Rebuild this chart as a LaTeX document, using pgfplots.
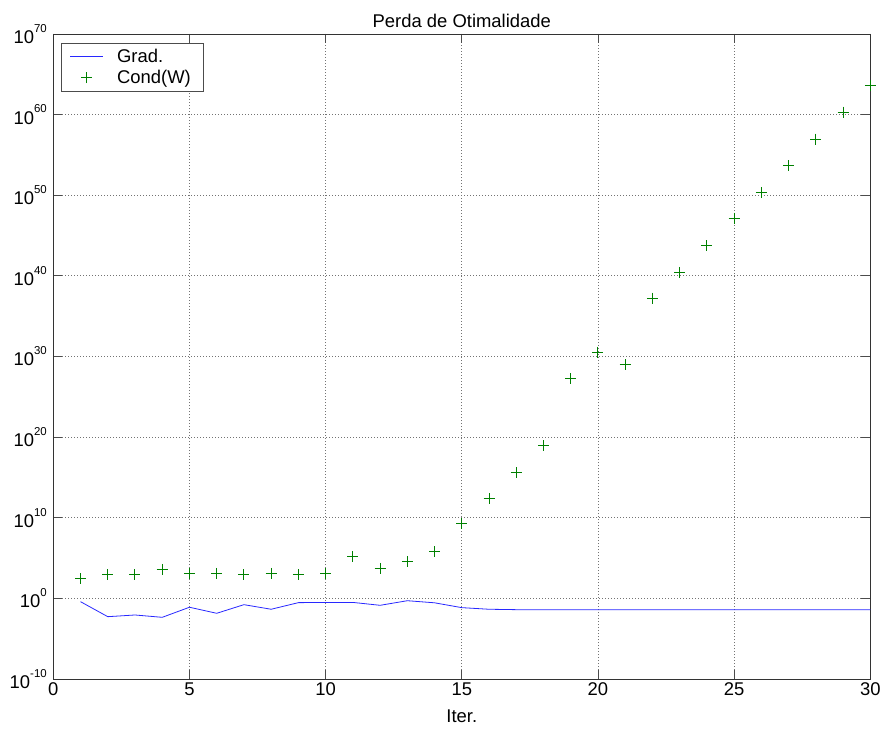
\documentclass[border=0pt]{standalone}
\usepackage{pgfplots}
\pgfplotsset{compat=1.18}
\usepackage{fontspec}
\setmainfont{Liberation Sans}
\newcommand{\ex}[1]{10\raisebox{0.6em}{\fontsize{11.5}{11.5}\selectfont #1}}
\definecolor{mblue}{RGB}{40,40,255}
\definecolor{mgreen}{RGB}{0,128,0}
\begin{document}
\begin{tikzpicture}
\useasboundingbox (-53.3bp,-52bp) rectangle (828.7bp,679bp);
\begin{axis}[
  at={(0,0)}, anchor=south west,
  scale only axis, width=817bp, height=645bp,
  ymode=log,
  xmin=0, xmax=30, ymin=1e-10, ymax=1e70,
  xtick={0,5,...,30},
  ytick={1e-10,1e0,1e10,1e20,1e30,1e40,1e50,1e60,1e70},
  yticklabels={\ex{-10},\ex{0},\ex{10},\ex{20},\ex{30},\ex{40},\ex{50},\ex{60},\ex{70}},
  minor ytick={}, minor xtick={},
  font=\fontsize{18.5}{22}\selectfont,
  /pgf/number format/assume math mode=true,
  tick pos=both, tick align=inside, major tick length=9bp,
  tick style={black!70, line width=0.8bp},
  axis line style={black!80, line width=0.8bp},
  grid=major,
  major grid style={black!55, line width=0.8bp, dash pattern=on 1bp off 2bp},
  title={Perda de Otimalidade},
  title style={yshift=-3bp},
  xlabel={Iter.},
  xlabel style={yshift=-7bp},
  yticklabel style={xshift=-3bp},
  clip=false,
  legend style={at={(0.0098,0.986)}, anchor=north west, draw=black!70, line width=0.8bp,
    font=\fontsize{18.5}{22}\selectfont, inner xsep=8bp, inner ysep=4bp,
    row sep=2bp, nodes={inner xsep=5bp, inner ysep=2bp}},
  legend cell align=left,
]
\addplot[color=mblue, line width=0.8bp,
  legend image code/.code={\path[draw=none] (0bp,0bp) -- (42bp,0bp); \draw[draw=mblue, line width=0.8bp] (0bp,0bp) -- (33bp,0bp);}]
  coordinates {
(1,0.389)(2,5.37e-3)(3,8.71e-3)(4,4.47e-3)(5,0.0794)(6,0.0141)(7,0.166)(8,0.0447)
(9,0.295)(10,0.316)(11,0.316)(12,0.138)(13,0.513)(14,0.282)(15,0.0708)(16,0.0447)
(17,0.0398)(18,0.0398)(19,0.0398)(20,0.0398)(21,0.0398)(22,0.0398)(23,0.0398)
(24,0.0398)(25,0.0398)(26,0.0398)(27,0.0398)(28,0.0398)(29,0.0398)(30,0.0398)};
\addlegendentry{Grad.}
\addplot[color=mgreen, only marks, mark=+, mark size=5.5bp, line width=1bp,
  mark options={draw=mgreen},
  legend image code/.code={\path[draw=none] (0bp,0bp) -- (42bp,0bp); \draw[draw=mgreen, line width=1bp] (16.5bp,-5.5bp) -- (16.5bp,5.5bp) (11bp,0bp) -- (22bp,0bp);}]
  coordinates {
(1,275)(2,871)(3,871)(4,4074)(5,1288)(6,1288)(7,871)(8,1288)(9,871)(10,1288)
(11,1.38e5)(12,5370)(13,3.55e4)(14,6.17e5)(15,1.78e9)(16,2.14e12)(17,3.98e15)
(18,8.91e18)(19,1.82e27)(20,3.39e30)(21,9.12e28)(22,1.78e37)(23,2.75e40)
(24,5.25e43)(25,1.45e47)(26,2.19e50)(27,4.47e53)(28,9.12e56)(29,2.04e60)(30,3.72e63)};
\addlegendentry{Cond(W)}
\end{axis}
\end{tikzpicture}
\end{document}
